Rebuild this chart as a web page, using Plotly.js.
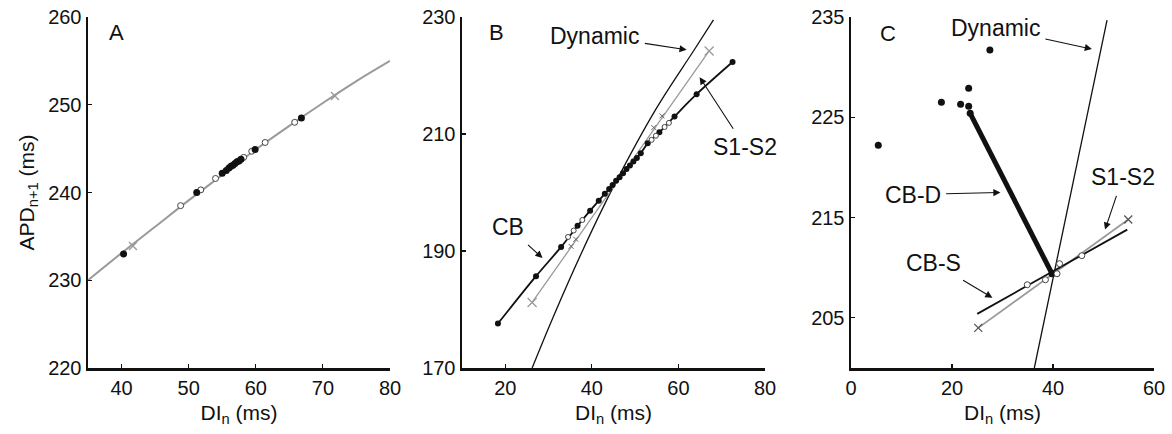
<!DOCTYPE html>
<html><head><meta charset="utf-8">
<script src="https://cdn.plot.ly/plotly-3.0.1.min.js"></script>
<style>html,body{margin:0;padding:0;background:#fff}</style>
</head><body>
<div id="chart" style="width:1172px;height:434px"></div>
<script>
// ---------- Panel A ----------
const aLineX = [35, 40, 45, 50, 55, 60, 65, 70, 75, 80];
const aLineY = [230, 233.1, 236.1, 239.1, 242.0, 244.9, 247.6, 250.2, 252.7, 255.0];
const aCbX = [40.3, 51.2, 55.0, 55.6, 56.0, 56.3, 56.6, 56.9, 57.2, 57.5, 57.8, 59.9, 66.8];
const aCbY = [233.0, 240.0, 242.2, 242.5, 242.8, 243.0, 243.1, 243.3, 243.5, 243.6, 243.8, 244.9, 248.5];
const aOpenX = [48.8, 51.8, 54.0, 58.2, 59.4, 61.4, 65.8];
const aOpenY = [238.5, 240.3, 241.6, 244.0, 244.7, 245.7, 248.0];
const aCrossX = [41.7, 71.8];
const aCrossY = [233.9, 251.0];

// ---------- Panel B ----------
const bDynX = [26.2, 31, 37.5, 45, 55, 63.4, 68.1];
const bDynY = [170, 178.6, 189.5, 201, 214.5, 224.1, 229.5];
const bS12X = [26.2, 67.1];
const bS12Y = [181.2, 224.2];
const bS12MidX = [35.2, 36.3, 54.3, 56.2];
const bS12MidY = [190.8, 192.0, 211.1, 213.1];
const bCbX = [18.3, 27.1, 32.9, 36.7, 39.6, 41.6, 43.0, 44.0, 44.8, 45.6, 46.4, 47.2, 48.0, 48.8, 49.6, 50.4, 51.3, 52.9, 55.6, 59.1, 64.2, 72.5];
const bCbY = [177.6, 185.7, 190.7, 194.3, 196.9, 198.6, 199.8, 200.6, 201.3, 202.0, 202.6, 203.3, 204.0, 204.6, 205.3, 205.9, 206.7, 208.4, 210.3, 213.0, 216.8, 222.3];
const bOpenX = [34.5, 35.8, 37.8, 53.8, 54.8, 56.8, 57.8];
const bOpenY = [192.4, 193.5, 195.3, 209.0, 209.7, 211.2, 211.9];

// ---------- Panel C ----------
const cDynX = [36.3, 50.7];
const cDynY = [200, 234.7];
const cCbdX = [23.6, 39.8];
const cCbdY = [225.4, 209.4];
const cCbdDotX = [5.4, 17.9, 21.7, 23.3, 23.3, 27.5, 23.6, 39.8];
const cCbdDotY = [222.2, 226.5, 226.3, 227.9, 226.1, 231.7, 225.4, 209.4];
const cCbsX = [25.0, 54.7];
const cCbsY = [205.4, 213.8];
const cS12X = [25.2, 54.9];
const cS12Y = [204.0, 214.8];
const cOpenX = [34.9, 38.5, 40.8, 41.3, 45.7];
const cOpenY = [208.3, 208.8, 209.4, 210.4, 211.2];

const GRAY = '#9a9a9a', BLK = '#111';
const F = 'Liberation Sans, Arial, Helvetica, sans-serif';

const traces = [
  // A
  {x: aLineX, y: aLineY, mode: 'lines', line: {color: GRAY, width: 2, shape: 'spline'}, xaxis: 'x', yaxis: 'y'},
  {x: aOpenX, y: aOpenY, mode: 'markers', marker: {symbol: 'circle', size: 6, color: '#fff', line: {color: '#444', width: 1}}, xaxis: 'x', yaxis: 'y'},
  {x: aCbX, y: aCbY, mode: 'markers', marker: {symbol: 'circle', size: 7, color: BLK}, xaxis: 'x', yaxis: 'y'},
  {x: aCrossX, y: aCrossY, mode: 'markers', marker: {symbol: 'x-thin', size: 8, line: {color: GRAY, width: 1.3}}, xaxis: 'x', yaxis: 'y'},
  // B
  {x: bDynX, y: bDynY, mode: 'lines', line: {color: BLK, width: 1.3, shape: 'spline'}, xaxis: 'x2', yaxis: 'y2'},
  {x: bS12X, y: bS12Y, mode: 'lines+markers', line: {color: GRAY, width: 1.3}, marker: {symbol: 'x-thin', size: 9, line: {color: GRAY, width: 1.3}}, xaxis: 'x2', yaxis: 'y2'},
  {x: bS12MidX, y: bS12MidY, mode: 'markers', marker: {symbol: 'x-thin', size: 5, line: {color: '#666', width: 1}}, xaxis: 'x2', yaxis: 'y2'},
  {x: bCbX, y: bCbY, mode: 'lines+markers', line: {color: BLK, width: 1.8, shape: 'spline'}, marker: {symbol: 'circle', size: 6, color: BLK}, xaxis: 'x2', yaxis: 'y2'},
  {x: bOpenX, y: bOpenY, mode: 'markers', marker: {symbol: 'circle', size: 5, color: '#fff', line: {color: '#444', width: 1}}, xaxis: 'x2', yaxis: 'y2'},
  // C
  {x: cDynX, y: cDynY, mode: 'lines', line: {color: BLK, width: 1.3}, xaxis: 'x3', yaxis: 'y3'},
  {x: cS12X, y: cS12Y, mode: 'lines+markers', line: {color: GRAY, width: 1.8}, marker: {symbol: 'x-thin', size: 8, line: {color: '#555', width: 1.3}}, xaxis: 'x3', yaxis: 'y3'},
  {x: cCbsX, y: cCbsY, mode: 'lines', line: {color: BLK, width: 1.8}, xaxis: 'x3', yaxis: 'y3'},
  {x: cCbdX, y: cCbdY, mode: 'lines', line: {color: BLK, width: 5}, xaxis: 'x3', yaxis: 'y3'},
  {x: cCbdDotX, y: cCbdDotY, mode: 'markers', marker: {symbol: 'circle', size: 7, color: BLK}, xaxis: 'x3', yaxis: 'y3'},
  {x: cOpenX, y: cOpenY, mode: 'markers', marker: {symbol: 'circle', size: 6, color: '#fff', line: {color: '#444', width: 1}}, xaxis: 'x3', yaxis: 'y3'}
];

function ax(domain, range, tickvals, anchor, titleText) {
  const o = {
    domain: domain, range: range, tickvals: tickvals, ticktext: tickvals.map(String),
    showline: true, linecolor: BLK, linewidth: 2.5, mirror: false,
    ticks: 'inside', ticklen: 4, tickwidth: 1.2, tickcolor: BLK,
    showgrid: false, zeroline: false, fixedrange: true, anchor: anchor,
    tickfont: {family: F, size: 20, color: BLK}
  };
  if (titleText) o.title = {text: titleText, font: {family: F, size: 21, color: BLK}, standoff: 8};
  return o;
}

const yd = [1 - 368/434, 1 - 17/434];
const dA = [88/1172, 390/1172], dB = [462/1172, 765/1172], dC = [851/1172, 1154/1172];

function txt(xr, yr, x, y, t, s) {
  return {xref: xr, yref: yr, x: x, y: y, text: t, showarrow: false, font: {family: F, size: s || 23, color: BLK}, xanchor: 'center', yanchor: 'middle'};
}
// label with arrow: text placed at (tx,ty), arrow head at (hx,hy)
function lab(xr, yr, t, tx, ty, hx, hy) {
  return {xref: xr, yref: yr, axref: xr, ayref: yr, ax: tx, ay: ty, x: hx, y: hy, text: t, showarrow: true,
    font: {family: F, size: 23, color: BLK}, borderpad: 3,
    arrowhead: 2, arrowsize: 1.3, arrowwidth: 1.1, arrowcolor: BLK, standoff: 0, startstandoff: 2};
}

const layout = {
  width: 1172, height: 434,
  margin: {l: 0, r: 0, t: 0, b: 0},
  paper_bgcolor: '#fff', plot_bgcolor: '#fff',
  showlegend: false,
  font: {family: F, size: 20, color: BLK},
  xaxis: ax(dA, [35, 80], [40, 50, 60, 70, 80], 'y', 'DI<sub>n</sub> (ms)'),
  yaxis: ax(yd, [220, 260], [220, 230, 240, 250, 260], 'x', 'APD<sub>n+1</sub> (ms)'),
  xaxis2: ax(dB, [10, 80], [20, 40, 60, 80], 'y2', 'DI<sub>n</sub> (ms)'),
  yaxis2: ax(yd, [170, 230], [170, 190, 210, 230], 'x2'),
  xaxis3: ax(dC, [0, 60], [0, 20, 40, 60], 'y3', 'DI<sub>n</sub> (ms)'),
  yaxis3: ax(yd, [200, 235], [205, 215, 225, 235], 'x3'),
  annotations: [
    txt('x', 'y', 39.3, 258.2, 'A', 22),
    txt('x2', 'y2', 17.9, 227.3, 'B', 22),
    txt('x3', 'y3', 7.3, 233.4, 'C', 22),
    lab('x2', 'y2', 'Dynamic', 40.7, 226.8, 61.9, 224.4),
    lab('x2', 'y2', 'S1-S2', 75.4, 207.8, 64.9, 219.7),
    lab('x2', 'y2', 'CB', 20.7, 194.1, 28.6, 188.8),
    lab('x3', 'y3', 'Dynamic', 28.6, 233.9, 47.7, 231.8),
    lab('x3', 'y3', 'CB-D', 12.2, 217.3, 29.6, 217.5),
    lab('x3', 'y3', 'S1-S2', 53.8, 219.0, 50.3, 213.8),
    lab('x3', 'y3', 'CB-S', 16.4, 210.5, 28.0, 207.0)
  ]
};

Plotly.newPlot('chart', traces, layout, {staticPlot: true, displayModeBar: false}).then(function (gd) {
  // drop empty placeholder text nodes that Plotly leaves for untitled axes
  gd.querySelectorAll('text').forEach(function (t) {
    if (!t.textContent || !t.textContent.trim()) t.parentNode.removeChild(t);
  });
});
</script>
</body></html>
